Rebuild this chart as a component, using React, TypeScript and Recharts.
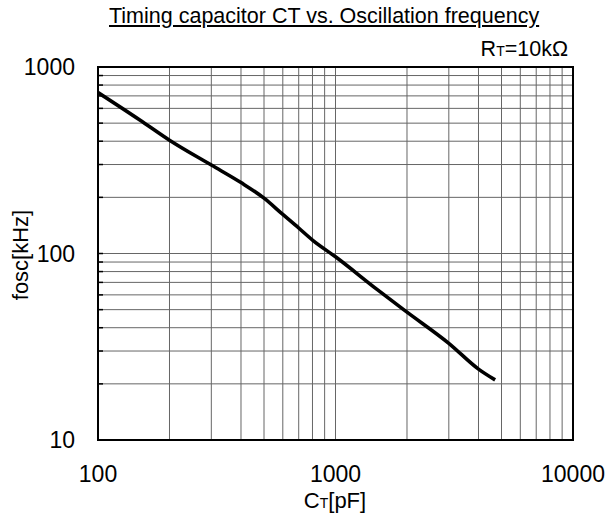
import React from 'react';
import { LineChart, Line, XAxis, YAxis, CartesianGrid, ReferenceArea } from 'recharts';

// capacitor values [pF] and oscillation frequency [kHz]
const ctValues = [100, 150, 200, 300, 400, 500, 600, 700, 800, 1000, 1500, 2000, 3000, 4000, 4700];
const foscValues = [730, 520, 405, 298, 240, 198, 162, 137, 118, 96, 64, 48.5, 33, 24, 21];

const xTicks = [100, 200, 300, 400, 500, 600, 700, 800, 900, 1000, 2000, 3000, 4000, 5000, 6000, 7000, 8000, 9000, 10000];
const yTicks = [10, 20, 30, 40, 50, 60, 70, 80, 90, 100, 200, 300, 400, 500, 600, 700, 800, 900, 1000];
const xLabels = [100, 1000, 10000];
const yLabels = [10, 100, 1000];

const data = ctValues.map((ct, i) => ({ ct, fosc: foscValues[i] }));

const font = "Arial, 'Liberation Sans', sans-serif";

const App: React.FC = () => {
  return (
    <div style={{ position: 'absolute', left: 0, top: 0, width: 611, height: 518, fontFamily: font, color: '#000' }}>
      <LineChart
        width={611}
        height={518}
        data={data}
        margin={{ top: 67, right: 38, bottom: 38, left: 0 }}
      >
        <CartesianGrid stroke="#666" strokeWidth={1} />
        <XAxis
          dataKey="ct"
          type="number"
          scale="log"
          domain={[100, 10000]}
          allowDataOverflow
          ticks={xTicks}
          interval={0}
          height={40}
          tickLine={false}
          axisLine={false}
          tickSize={0}
          tickMargin={26}
          tick={{ fill: '#000', fontSize: 23, fontFamily: font }}
          tickFormatter={(v: number) => (xLabels.includes(v) ? String(v) : '')}
        />
        <YAxis
          type="number"
          scale="log"
          domain={[10, 1000]}
          allowDataOverflow
          ticks={yTicks}
          interval={0}
          width={98}
          tickLine={false}
          axisLine={false}
          tickSize={0}
          tickMargin={23}
          tick={{ fill: '#000', fontSize: 23, fontFamily: font }}
          tickFormatter={(v: number) => (yLabels.includes(v) ? String(v) : '')}
        />
        {/* short inner ticks along bottom and left edges */}
        <XAxis
          xAxisId="inner"
          type="number"
          scale="log"
          domain={[100, 10000]}
          allowDataOverflow
          ticks={xTicks}
          interval={0}
          mirror
          axisLine={false}
          tickSize={5}
          tickLine={{ stroke: '#000', strokeWidth: 1.5 }}
          tickFormatter={() => ''}
        />
        <YAxis
          yAxisId="inner"
          type="number"
          scale="log"
          domain={[10, 1000]}
          allowDataOverflow
          ticks={yTicks}
          interval={0}
          mirror
          axisLine={false}
          tickSize={5}
          tickLine={{ stroke: '#000', strokeWidth: 1.5 }}
          tickFormatter={() => ''}
        />
        <ReferenceArea x1={100} x2={10000} y1={10} y2={1000} fill="none" stroke="#000" strokeWidth={2} ifOverflow="visible" />
        <Line
          dataKey="fosc"
          type="monotone"
          stroke="#000"
          strokeWidth={3.6}
          dot={false}
          isAnimationActive={false}
        />
      </LineChart>

      <div style={{ position: 'absolute', left: 109, top: 4, fontSize: 21.5, whiteSpace: 'nowrap', textDecoration: 'underline' }}>
        Timing capacitor CT vs. Oscillation frequency
      </div>
      <div style={{ position: 'absolute', right: 43, top: 37, fontSize: 21.5, whiteSpace: 'nowrap' }}>
        R<span style={{ fontSize: 14 }}>T</span>=10kΩ
      </div>
      <div style={{ position: 'absolute', left: 235, width: 200, textAlign: 'center', top: 490, lineHeight: '22px', fontSize: 22, whiteSpace: 'nowrap' }}>
        C<span style={{ fontSize: 14 }}>T</span>[pF]
      </div>
      <div
        style={{
          position: 'absolute',
          left: 21,
          top: 255,
          transform: 'translate(-50%, -50%) rotate(-90deg)',
          fontSize: 22,
          whiteSpace: 'nowrap',
        }}
      >
        fosc[kHz]
      </div>
    </div>
  );
};

export default App;
